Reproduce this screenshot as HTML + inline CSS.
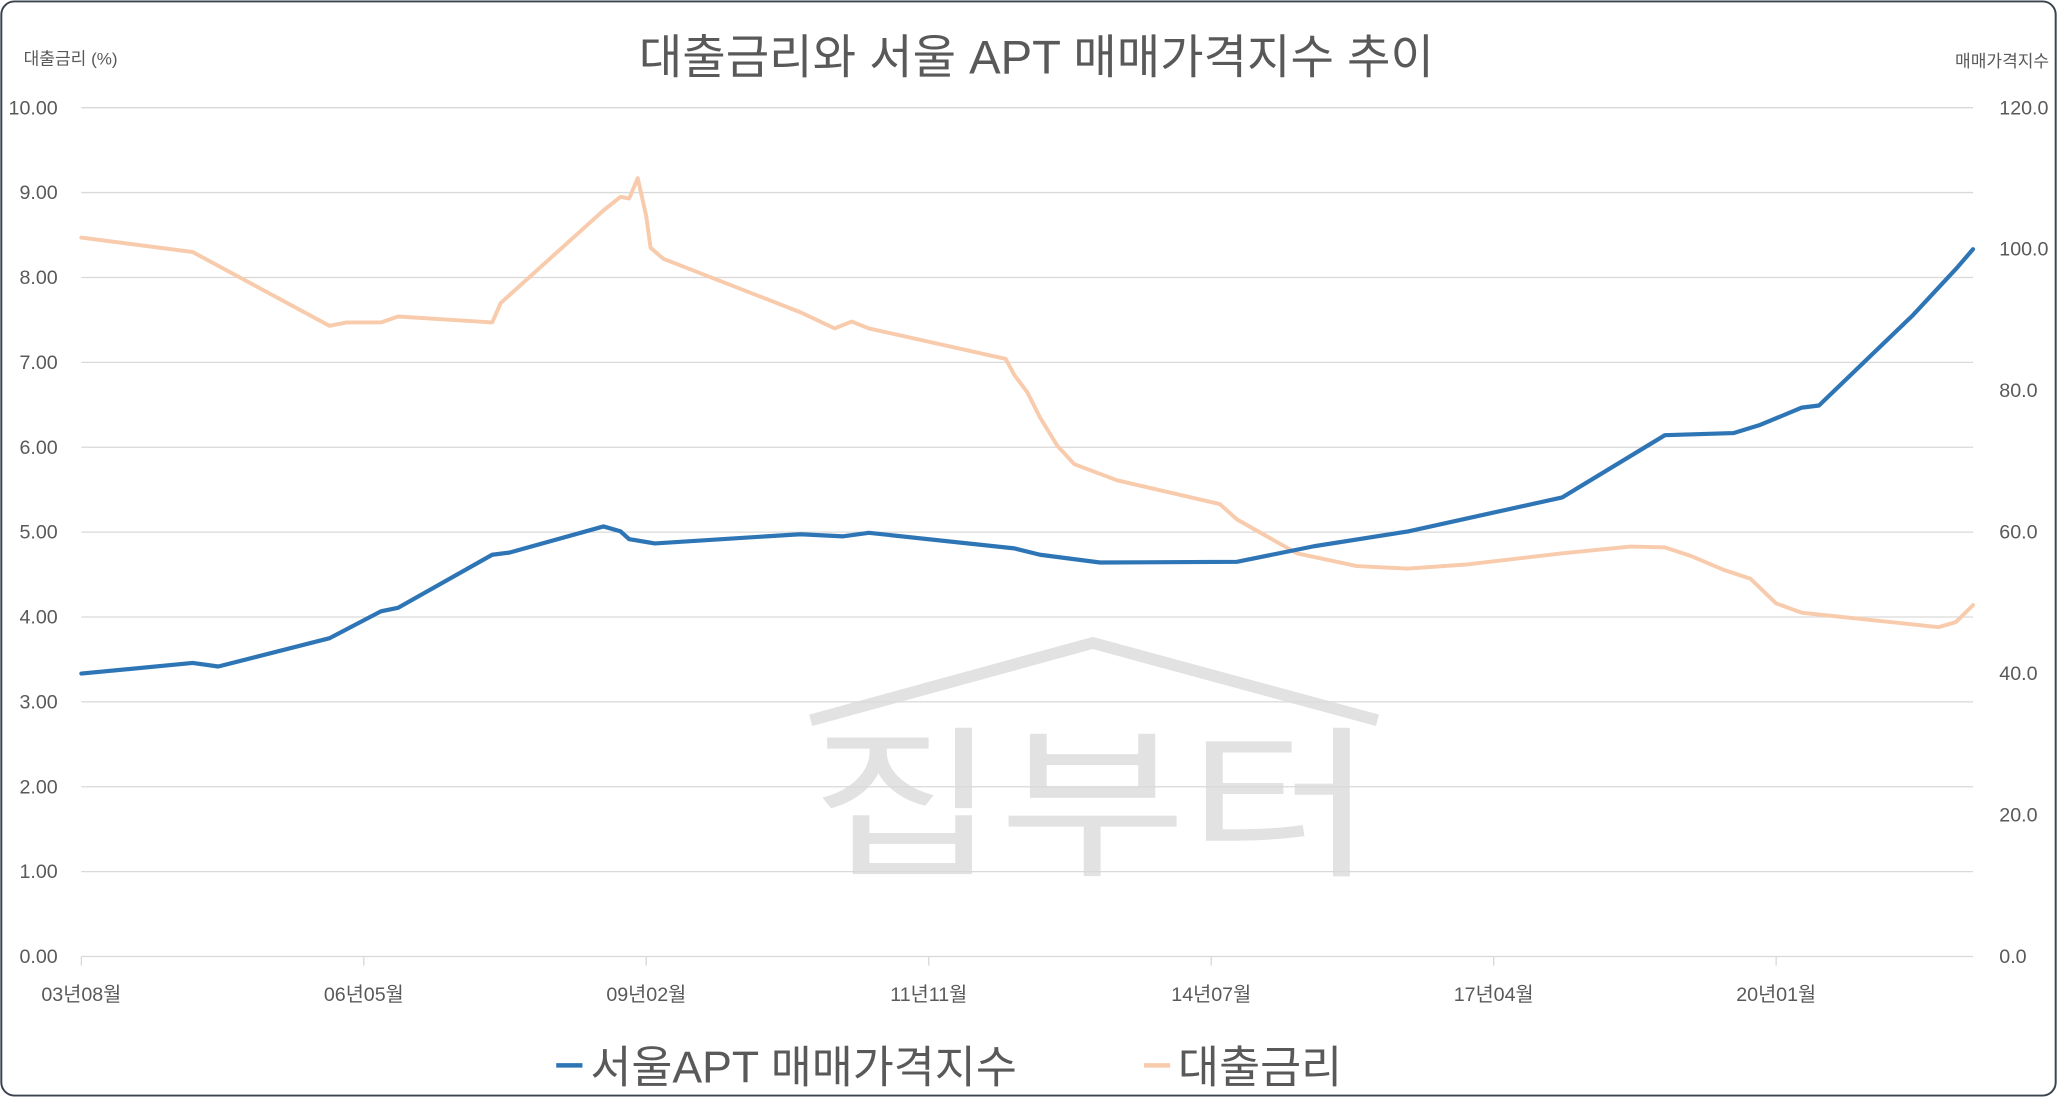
<!DOCTYPE html>
<html><head><meta charset="utf-8"><style>
html,body{margin:0;padding:0;background:#fff;}
svg{display:block;font-family:"Liberation Sans","Noto Sans CJK KR",sans-serif;}
</style></head><body>
<svg id="chart" width="2057" height="1097" viewBox="0 0 1568 836">
<rect x="1" y="1" width="1566" height="834" rx="10" fill="#fff" stroke="#3b4350" stroke-width="1.5"/>
<g fill="none" stroke="#e2e2e2" stroke-width="9">
<polyline points="618,549 833,490 1050,549"/>
</g>
<text x="0" y="0" font-size="125" fill="#e2e2e2" text-anchor="middle" transform="translate(833,658) scale(1.25,1)">집부터</text>
<text x="790" y="56" font-size="36" fill="#595959" text-anchor="middle">대출금리와 서울 APT 매매가격지수 추이</text>
<text x="18" y="49" font-size="13" fill="#595959">대출금리 (%)</text>
<text x="1562" y="51" font-size="13" fill="#595959" text-anchor="end">매매가격지수</text>
<g id="grid"></g><g id="ticks"></g><g id="series"></g>
<g>
<line x1="424" y1="812" x2="444" y2="812" stroke="#2e75b6" stroke-width="3.5"/>
<text x="450" y="825" font-size="34" fill="#595959">서울APT 매매가격지수</text>
<line x1="872" y1="812" x2="892" y2="812" stroke="#f8cbad" stroke-width="3.5"/>
<text x="898" y="825" font-size="34" fill="#595959">대출금리</text>
</g>
</svg>
<script>
const leftTicks=["0.00","1.00","2.00","3.00","4.00","5.00","6.00","7.00","8.00","9.00","10.00"];
const rightTicks=["0.0","20.0","40.0","60.0","80.0","100.0","120.0"];
const xTickMonths=[0,33,66,99,132,165,198];
const xTickLabels=["03년08월","06년05월","09년02월","11년11월","14년07월","17년04월","20년01월"];
const indexMonths=[0,13,16,29,35,37,48,50,61,63,64,66,67,84,89,92,109,112,119,135,144,155,173,185,193,196,201,203,214,219,221];
const indexValues=[40.0,41.5,41.0,45.0,48.8,49.3,56.8,57.1,60.8,60.1,59.0,58.6,58.4,59.7,59.4,59.9,57.7,56.8,55.7,55.8,58.0,60.1,64.9,73.7,74.0,75.1,77.6,77.9,90.7,97.2,100.0];
const rateMonths=[0,13,29,31,35,37,48,49,61,63,64,65,66,66.5,68,84,88,90,92,108,109,110.5,112,114,116,121,133,135,142,149,155,162,173,181,185,188,192,195,198,201,217,219,221];
const rateValues=[8.47,8.30,7.43,7.47,7.47,7.54,7.47,7.70,8.79,8.95,8.93,9.17,8.72,8.35,8.22,7.59,7.40,7.48,7.40,7.04,6.85,6.65,6.35,6.02,5.80,5.61,5.33,5.15,4.75,4.60,4.57,4.62,4.75,4.83,4.82,4.72,4.55,4.45,4.16,4.05,3.88,3.94,4.14];
const X0=62,X1=1504,Y0=729,Y1=82,MAXM=221;
const xs=m=>X0+(X1-X0)*m/MAXM;
const yl=v=>Y0-(Y0-Y1)*v/10;
const yr=v=>Y0-(Y0-Y1)*v/120;
const NS="http://www.w3.org/2000/svg";
function mk(tag,attrs,parent){const e=document.createElementNS(NS,tag);for(const k in attrs)e.setAttribute(k,attrs[k]);document.getElementById(parent).appendChild(e);return e;}
leftTicks.forEach((t,i)=>{const v=parseFloat(t);
 const g=mk('line',{x1:X0,x2:X1,y1:yl(v),y2:yl(v),stroke:'#d9d9d9','stroke-width':1},'grid');
 
 
 const tx=mk('text',{x:44,y:yl(v)+5,'font-size':15,fill:'#595959','text-anchor':'end'},'ticks');tx.textContent=t;
 
 
});
rightTicks.forEach(t=>{const v=parseFloat(t);
 const tx=mk('text',{x:1524,y:yr(v)+5,'font-size':15,fill:'#595959'},'ticks');tx.textContent=t;
 
 
});
xTickMonths.forEach((m,i)=>{
 const l=mk('line',{x1:xs(m),x2:xs(m),y1:Y0,y2:Y0+7,stroke:'#d9d9d9'},'ticks');
 
 
 const tx=mk('text',{x:xs(m),y:Y0+34,'font-size':15,fill:'#595959','text-anchor':'middle'},'ticks');tx.textContent=xTickLabels[i];
 
 
});
const rp=mk('polyline',{points:rateMonths.map((m,i)=>xs(m)+','+yl(rateValues[i])).join(' '),fill:'none',stroke:'#f8cbad','stroke-width':3,'stroke-linejoin':'round','stroke-linecap':'round'},'series');


const ip=mk('polyline',{points:indexMonths.map((m,i)=>xs(m)+','+yr(indexValues[i])).join(' '),fill:'none',stroke:'#2e75b6','stroke-width':3.2,'stroke-linejoin':'round','stroke-linecap':'round'},'series');


</script>
</body></html>
